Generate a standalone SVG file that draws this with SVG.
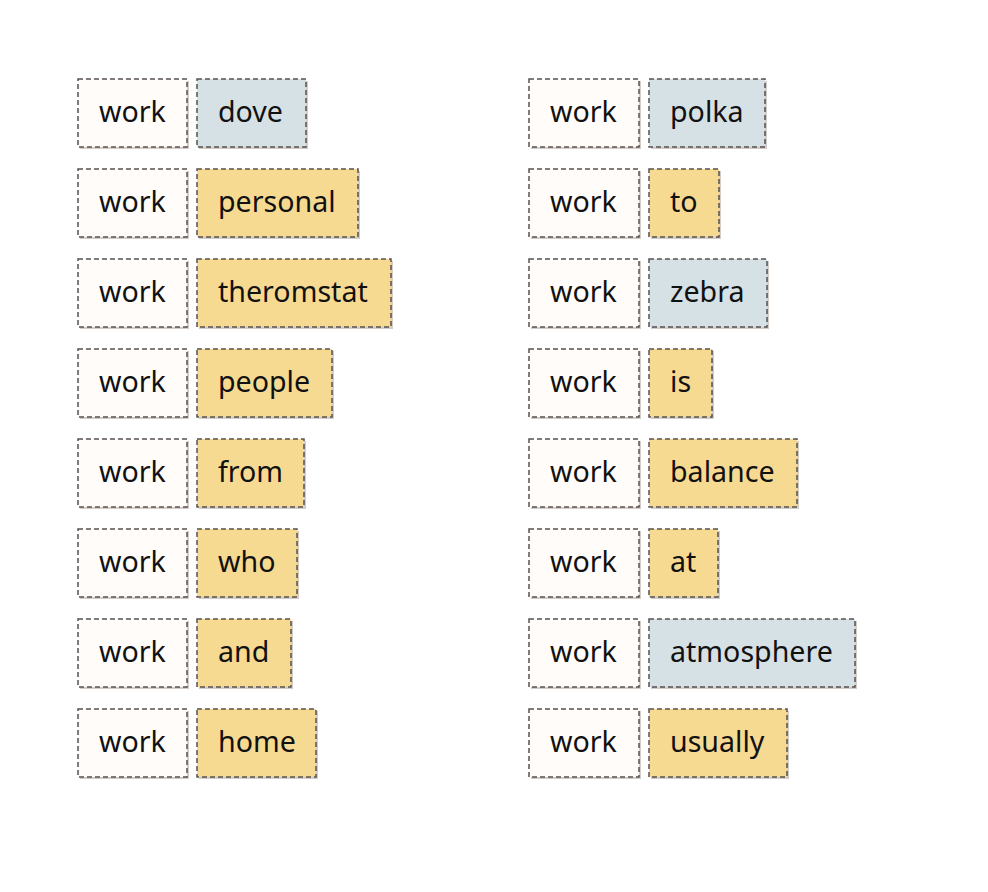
<svg xmlns="http://www.w3.org/2000/svg" width="988" height="892" viewBox="0 0 988 892">
  <style>
    .shadow { fill: #d3ccc6; }
    .box { stroke: #575150; stroke-width: 1.5; stroke-dasharray: 5 3; }
    .key { fill: #fffcf9; }
    .blue { fill: #d6e1e5; }
    .gold { fill: #f7da92; }
    text { font-family: "Noto Sans", "Open Sans", sans-serif; font-size: 28.6px; fill: #111; dominant-baseline: central; }
  </style>
  <rect width="988" height="892" fill="#ffffff"/>

  <!-- left column -->
  <g id="row-l1">
    <rect class="shadow" x="80" y="81" width="109" height="68"/><rect class="box key" x="78" y="79" width="109" height="68"/><text x="99" y="110">work</text>
    <rect class="shadow" x="199" y="81" width="109" height="68"/><rect class="box blue" x="197" y="79" width="109" height="68"/><text x="218" y="110">dove</text>
  </g>
  <g id="row-l2">
    <rect class="shadow" x="80" y="171" width="109" height="68"/><rect class="box key" x="78" y="169" width="109" height="68"/><text x="99" y="200">work</text>
    <rect class="shadow" x="199" y="171" width="161" height="68"/><rect class="box gold" x="197" y="169" width="161" height="68"/><text x="218" y="200">personal</text>
  </g>
  <g id="row-l3">
    <rect class="shadow" x="80" y="261" width="109" height="68"/><rect class="box key" x="78" y="259" width="109" height="68"/><text x="99" y="290">work</text>
    <rect class="shadow" x="199" y="261" width="194" height="68"/><rect class="box gold" x="197" y="259" width="194" height="68"/><text x="218" y="290">theromstat</text>
  </g>
  <g id="row-l4">
    <rect class="shadow" x="80" y="351" width="109" height="68"/><rect class="box key" x="78" y="349" width="109" height="68"/><text x="99" y="380">work</text>
    <rect class="shadow" x="199" y="351" width="135" height="68"/><rect class="box gold" x="197" y="349" width="135" height="68"/><text x="218" y="380">people</text>
  </g>
  <g id="row-l5">
    <rect class="shadow" x="80" y="441" width="109" height="68"/><rect class="box key" x="78" y="439" width="109" height="68"/><text x="99" y="470">work</text>
    <rect class="shadow" x="199" y="441" width="107" height="68"/><rect class="box gold" x="197" y="439" width="107" height="68"/><text x="218" y="470">from</text>
  </g>
  <g id="row-l6">
    <rect class="shadow" x="80" y="531" width="109" height="68"/><rect class="box key" x="78" y="529" width="109" height="68"/><text x="99" y="560">work</text>
    <rect class="shadow" x="199" y="531" width="100" height="68"/><rect class="box gold" x="197" y="529" width="100" height="68"/><text x="218" y="560">who</text>
  </g>
  <g id="row-l7">
    <rect class="shadow" x="80" y="621" width="109" height="68"/><rect class="box key" x="78" y="619" width="109" height="68"/><text x="99" y="650">work</text>
    <rect class="shadow" x="199" y="621" width="94" height="68"/><rect class="box gold" x="197" y="619" width="94" height="68"/><text x="218" y="650">and</text>
  </g>
  <g id="row-l8">
    <rect class="shadow" x="80" y="711" width="109" height="68"/><rect class="box key" x="78" y="709" width="109" height="68"/><text x="99" y="740">work</text>
    <rect class="shadow" x="199" y="711" width="119" height="68"/><rect class="box gold" x="197" y="709" width="119" height="68"/><text x="218" y="740">home</text>
  </g>

  <!-- right column -->
  <g id="row-r1">
    <rect class="shadow" x="531" y="81" width="110" height="68"/><rect class="box key" x="529" y="79" width="110" height="68"/><text x="550" y="110">work</text>
    <rect class="shadow" x="651" y="81" width="116" height="68"/><rect class="box blue" x="649" y="79" width="116" height="68"/><text x="670" y="110">polka</text>
  </g>
  <g id="row-r2">
    <rect class="shadow" x="531" y="171" width="110" height="68"/><rect class="box key" x="529" y="169" width="110" height="68"/><text x="550" y="200">work</text>
    <rect class="shadow" x="651" y="171" width="70" height="68"/><rect class="box gold" x="649" y="169" width="70" height="68"/><text x="670" y="200">to</text>
  </g>
  <g id="row-r3">
    <rect class="shadow" x="531" y="261" width="110" height="68"/><rect class="box key" x="529" y="259" width="110" height="68"/><text x="550" y="290">work</text>
    <rect class="shadow" x="651" y="261" width="118" height="68"/><rect class="box blue" x="649" y="259" width="118" height="68"/><text x="670" y="290">zebra</text>
  </g>
  <g id="row-r4">
    <rect class="shadow" x="531" y="351" width="110" height="68"/><rect class="box key" x="529" y="349" width="110" height="68"/><text x="550" y="380">work</text>
    <rect class="shadow" x="651" y="351" width="63" height="68"/><rect class="box gold" x="649" y="349" width="63" height="68"/><text x="670" y="380">is</text>
  </g>
  <g id="row-r5">
    <rect class="shadow" x="531" y="441" width="110" height="68"/><rect class="box key" x="529" y="439" width="110" height="68"/><text x="550" y="470">work</text>
    <rect class="shadow" x="651" y="441" width="148" height="68"/><rect class="box gold" x="649" y="439" width="148" height="68"/><text x="670" y="470">balance</text>
  </g>
  <g id="row-r6">
    <rect class="shadow" x="531" y="531" width="110" height="68"/><rect class="box key" x="529" y="529" width="110" height="68"/><text x="550" y="560">work</text>
    <rect class="shadow" x="651" y="531" width="69" height="68"/><rect class="box gold" x="649" y="529" width="69" height="68"/><text x="670" y="560">at</text>
  </g>
  <g id="row-r7">
    <rect class="shadow" x="531" y="621" width="110" height="68"/><rect class="box key" x="529" y="619" width="110" height="68"/><text x="550" y="650">work</text>
    <rect class="shadow" x="651" y="621" width="206" height="68"/><rect class="box blue" x="649" y="619" width="206" height="68"/><text x="670" y="650">atmosphere</text>
  </g>
  <g id="row-r8">
    <rect class="shadow" x="531" y="711" width="110" height="68"/><rect class="box key" x="529" y="709" width="110" height="68"/><text x="550" y="740">work</text>
    <rect class="shadow" x="651" y="711" width="138" height="68"/><rect class="box gold" x="649" y="709" width="138" height="68"/><text x="670" y="740">usually</text>
  </g>

  <!-- no connectors in this layout -->
  <g id="connectors"/>
</svg>
